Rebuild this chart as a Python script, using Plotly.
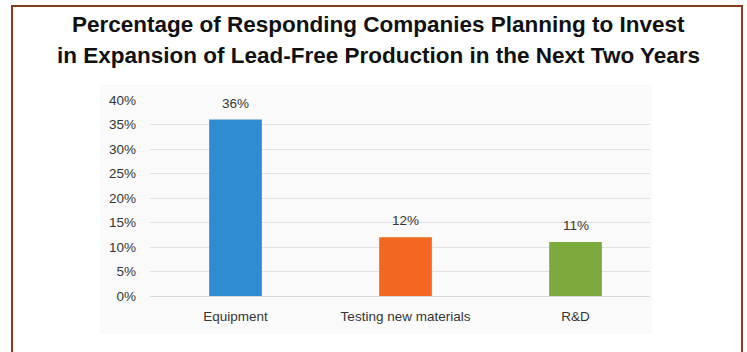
import plotly.graph_objects as go

# Survey results: share of companies planning each type of investment
categories = ["Equipment", "Testing new materials", "R&D"]
percentages = [36, 12, 11]
bar_colors = ["#2F8CD3", "#F26722", "#7DAA3D"]
y_ticks = [0, 5, 10, 15, 20, 25, 30, 35, 40]
title_lines = [
    "Percentage of Responding Companies Planning to Invest",
    "in Expansion of Lead-Free Production in the Next Two Years",
]

W, H = 747, 352
L, R, T, B = 150, 97, 100, 56
pw, ph = W - L - R, H - T - B

AXIS_FONT = dict(family="Liberation Sans, Arial, sans-serif", size=13.5, color="#353535")


def px_x(p):
    return (p - L) / pw


def px_y(p):
    return (H - B - p) / ph


fig = go.Figure(
    go.Bar(
        x=categories,
        y=percentages,
        marker=dict(color=bar_colors, line=dict(width=0)),
        width=0.31,
        hoverinfo="x+y",
    )
)

shapes = [
    # faint panel behind the chart
    dict(type="rect", xref="paper", yref="paper",
         x0=px_x(100), x1=px_x(652), y0=px_y(334), y1=px_y(84),
         fillcolor="#FAFAFA", line=dict(width=0), layer="below"),
    # outer frame
    dict(type="rect", xref="paper", yref="paper",
         x0=px_x(12), x1=px_x(742), y0=px_y(370), y1=px_y(6),
         line=dict(color="#8A3A20", width=2), fillcolor="rgba(0,0,0,0)"),
]

# value labels sitting above each bar
annotations = [
    dict(text=f"{v}%", x=c, y=v, xref="x", yref="y",
         xanchor="center", yanchor="bottom", yshift=7, showarrow=False,
         font=AXIS_FONT)
    for c, v in zip(categories, percentages)
]

annotations += [
    dict(text=f"<b>{line}</b>", xref="paper", yref="paper",
         x=px_x(378), y=px_y(cy), xanchor="center", yanchor="middle",
         showarrow=False,
         font=dict(family="Liberation Sans, Arial, sans-serif", size=22.5, color="#111111"))
    for line, cy in zip(title_lines, [24, 56])
]

fig.update_layout(
    width=W, height=H,
    margin=dict(l=L, r=R, t=T, b=B),
    paper_bgcolor="white",
    plot_bgcolor="rgba(0,0,0,0)",
    showlegend=False,
    shapes=shapes,
    annotations=annotations,
    xaxis=dict(
        range=[-0.503, 2.438],
        showgrid=False, showline=False, zeroline=False, ticks="",
        tickfont=AXIS_FONT,
        ticklabelstandoff=10,
    ),
    yaxis=dict(
        range=[0, 40], tickvals=y_ticks, ticktext=[f"{v}%" for v in y_ticks],
        showgrid=True, gridcolor="#E2E2E2", gridwidth=1,
        zeroline=True, zerolinecolor="#D8D8D8", zerolinewidth=1,
        showline=False, ticks="",
        tickfont=AXIS_FONT,
        ticklabelstandoff=13,
    ),
)

fig.write_html("out.html")
